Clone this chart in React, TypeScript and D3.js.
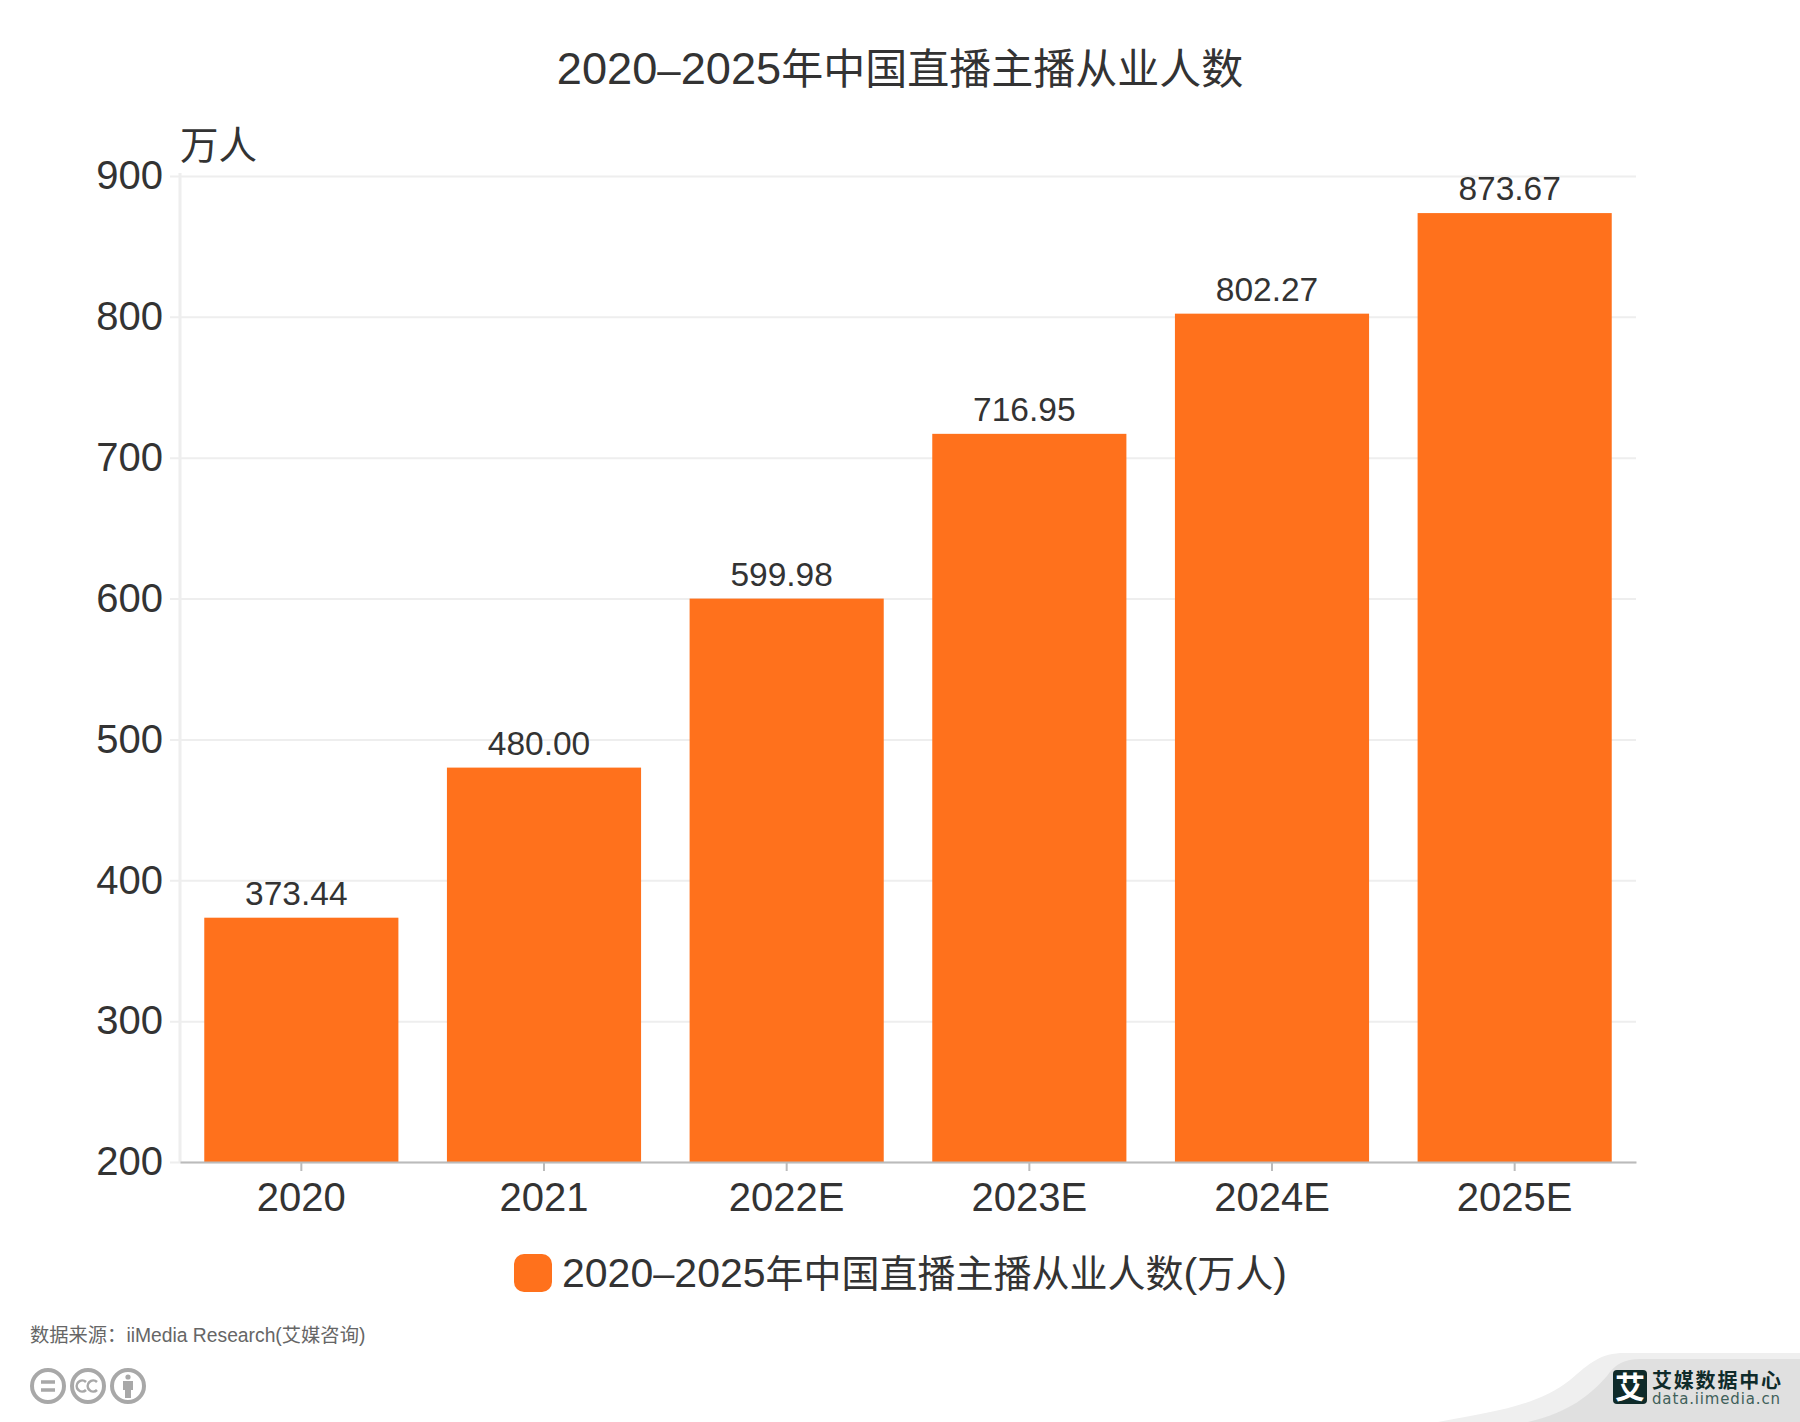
import { useEffect, useRef } from 'react';
import * as d3 from 'd3';

const categories = ['2020', '2021', '2022E', '2023E', '2024E', '2025E'];
const values = [373.44, 480.0, 599.98, 716.95, 802.27, 873.67];
const yTicks = [200, 300, 400, 500, 600, 700, 800, 900];

const TITLE = '2020–2025年中国直播主播从业人数';
const LEGEND = '2020–2025年中国直播主播从业人数(万人)';
const UNIT = '万人';
const SOURCE = '数据来源：iiMedia Research(艾媒咨询)';

const LATIN = '"Liberation Sans", Arimo, Helvetica, Arial';
const FONT = `${LATIN}, "Noto Sans CJK SC", sans-serif`;
const ORANGE = '#ff711c';
const INK = '#333333';

// reference mixes a wide latin face with tighter CJK, so each run gets its own size
function mixedText(
  parent: d3.Selection<any, unknown, null, undefined>,
  str: string,
  sizes: { latin: number; dash: number; cjk: number },
) {
  const runs = str.match(/[\u4e00-\u9fff]+|–|[^\u4e00-\u9fff–]+/g) || [];
  runs.forEach(run => {
    const size = run === '–' ? sizes.dash : /[\u4e00-\u9fff]/.test(run) ? sizes.cjk : sizes.latin;
    parent.append('tspan').attr('font-size', size).text(run);
  });
}

export default function App() {
  const svgRef = useRef<SVGSVGElement>(null);

  useEffect(() => {
    if (!svgRef.current) return;
    const svg = d3.select(svgRef.current);
    svg.selectAll('*').remove();
    svg.attr('font-family', FONT);

    const m = { t: 176, r: 164, b: 260, l: 180 };
    const w = 1800, h = 1422;

    const x = d3.scaleBand<string>().domain(categories).range([m.l, w - m.r]).paddingInner(0.2).paddingOuter(0.1);
    const y = d3.scaleLinear().domain([200, 900]).range([h - m.b, m.t]);

    const title = svg.append('text').attr('x', 900).attr('y', 84).attr('text-anchor', 'middle').attr('fill', INK);
    mixedText(title as any, TITLE, { latin: 45.2, dash: 42, cjk: 42 });
    svg.append('text').attr('x', 180).attr('y', 159).attr('font-size', 38.5).attr('fill', INK).text(UNIT);

    // Y axis with full-width grid
    const yAxis = svg.append('g').attr('transform', `translate(${m.l},0)`)
      .call(d3.axisLeft(y).tickValues(yTicks).tickSize(0).tickPadding(17));
    yAxis.select('.domain').remove();
    yAxis.selectAll('text').attr('font-size', 40).attr('fill', INK).attr('font-family', FONT);
    yAxis.selectAll('.tick').append('line')
      .attr('x1', -10).attr('x2', w - m.r - m.l).attr('stroke', '#eeeeee').attr('stroke-width', 2);
    svg.append('line').attr('x1', m.l).attr('x2', m.l).attr('y1', m.t - 3).attr('y2', h - m.b)
      .attr('stroke', '#eeeeee').attr('stroke-width', 3);

    // Bars
    svg.append('g').selectAll('rect').data(values).enter().append('rect')
      .attr('x', (_, i) => x(categories[i])!)
      .attr('y', d => y(d))
      .attr('width', x.bandwidth())
      .attr('height', d => y(200) - y(d))
      .attr('fill', ORANGE);

    // Value labels sit a little left of bar centre
    svg.append('g').selectAll('text').data(values).enter().append('text')
      .attr('x', (_, i) => x(categories[i])! + x.bandwidth() / 2 - 5)
      .attr('y', d => y(d) - 13)
      .attr('text-anchor', 'middle')
      .attr('font-size', 33.5)
      .attr('fill', INK)
      .text(d => d.toFixed(2));

    // X axis
    const xAxis = svg.append('g').attr('transform', `translate(0,${h - m.b})`)
      .call(d3.axisBottom(x).tickSize(9).tickPadding(12).tickSizeOuter(0));
    xAxis.select('.domain').attr('stroke', '#bbbbbb').attr('stroke-width', 2);
    xAxis.selectAll('line').attr('stroke', '#bbbbbb').attr('stroke-width', 2);
    xAxis.selectAll('text').attr('font-size', 40).attr('fill', INK).attr('font-family', FONT);

    // Legend
    svg.append('rect').attr('x', 514).attr('y', 1254).attr('width', 38).attr('height', 38).attr('rx', 10).attr('fill', ORANGE);
    const legend = svg.append('text').attr('x', 562).attr('y', 1287).attr('fill', INK);
    mixedText(legend as any, LEGEND, { latin: 41, dash: 38, cjk: 38 });

    // Source + cc icons
    svg.append('text').attr('x', 30).attr('y', 1342).attr('font-size', 19.3).attr('fill', '#666666').text(SOURCE);
    const cc = svg.append('g').attr('fill', 'none').attr('stroke', '#a8a8a8').attr('stroke-width', 4);
    [48, 88, 128].forEach(cx => cc.append('circle').attr('cx', cx).attr('cy', 1386).attr('r', 16));
    cc.append('path').attr('d', 'M41 1382h14M41 1390h14').attr('stroke-width', 3.5);
    cc.append('path').attr('d', 'M86 1382a5.5 5.5 0 1 0 0 8M97 1382a5.5 5.5 0 1 0 0 8').attr('stroke-width', 2.6);
    svg.append('circle').attr('cx', 128).attr('cy', 1377).attr('r', 2.6).attr('fill', '#a8a8a8');
    svg.append('path').attr('d', 'M123 1381h10v9h-2v8h-6v-8h-2z').attr('fill', '#a8a8a8');

    // Brand corner
    svg.append('path').attr('fill', '#efefef')
      .attr('d', 'M1438 1422C1500 1411 1540 1404 1570 1380C1590 1363 1600 1353 1625 1353H1800V1422Z');
    svg.append('path').attr('fill', '#e0e0e0')
      .attr('d', 'M1528 1422C1570 1412 1590 1395 1607 1376C1615 1364 1625 1359 1640 1359H1800V1422Z');
    svg.append('rect').attr('x', 1613).attr('y', 1370).attr('width', 34).attr('height', 34).attr('rx', 4).attr('fill', '#0f2b2a');
    svg.append('text').attr('x', 1630).attr('y', 1398).attr('text-anchor', 'middle')
      .attr('font-size', 30).attr('font-weight', 700).attr('fill', '#ffffff').text('艾');
    svg.append('text').attr('x', 1652).attr('y', 1388).attr('font-size', 20).attr('font-weight', 700)
      .attr('fill', '#0f2b2a').attr('textLength', 129).text('艾媒数据中心');
    svg.append('text').attr('x', 1652).attr('y', 1404).attr('font-size', 15)
      .attr('font-family', '"DejaVu Sans"').attr('fill', '#3f5f5a').attr('textLength', 128).text('data.iimedia.cn');
  }, []);

  return <svg ref={svgRef} width={1800} height={1422} viewBox="0 0 1800 1422"
    style={{ position: 'absolute', left: 0, top: 0, background: '#fff' }} />;
}
